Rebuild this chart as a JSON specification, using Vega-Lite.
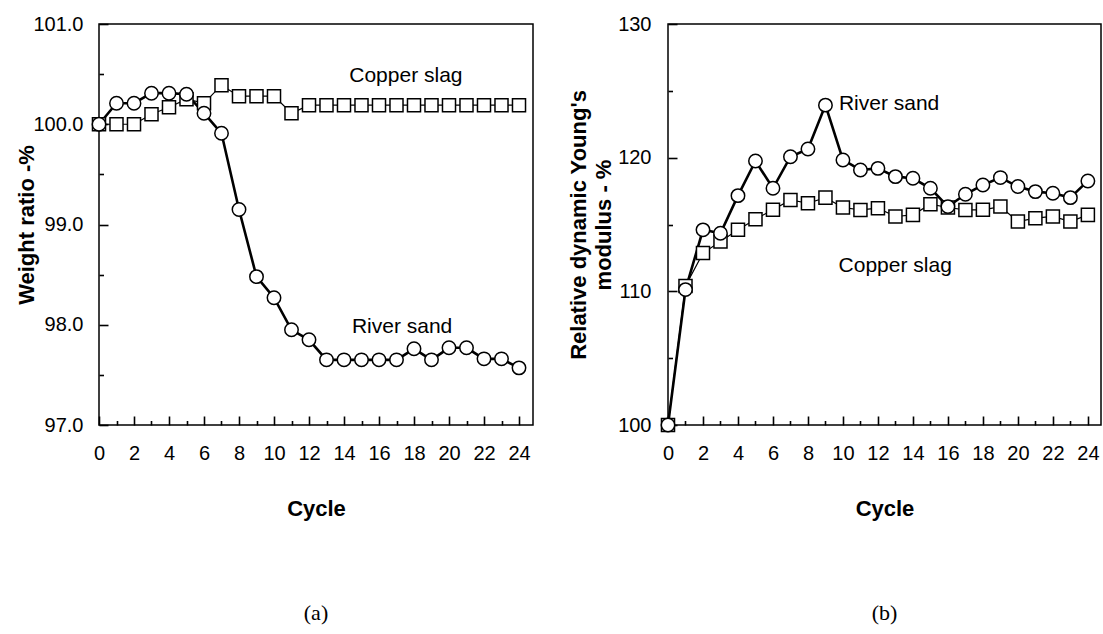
{
  "$schema": "https://vega.github.io/schema/vega-lite/v6.json",
  "background": "white",
  "padding": {"left": 14, "top": 13, "right": 0, "bottom": 0},
  "spacing": 32,
  "config": {
    "view": {"stroke": "black", "strokeWidth": 1.5, "fill": null},
    "font": "Liberation Sans",
    "axis": {
      "grid": false,
      "zindex": 1,
      "domain": false,
      "ticks": true,
      "tickColor": "black",
      "tickWidth": 1.6,
      "labelColor": "black",
      "labelFont": "Liberation Sans",
      "labelFontSize": 20,
      "labelOverlap": false,
      "labelFlush": false,
      "labelBound": false,
      "titleFont": "Liberation Sans",
      "titleFontSize": 22,
      "titleFontWeight": "bold",
      "titleColor": "black"
    },
    "title": {"font": "Liberation Serif", "fontSize": 22, "fontWeight": "normal", "orient": "bottom", "offset": 84, "color": "black", "anchor": "middle"}
  },
  "datasets": {
    "a": [
      {"series": "Copper slag", "cycle": 0, "value": 100.0},
      {"series": "Copper slag", "cycle": 1, "value": 100.0},
      {"series": "Copper slag", "cycle": 2, "value": 100.0},
      {"series": "Copper slag", "cycle": 3, "value": 100.1},
      {"series": "Copper slag", "cycle": 4, "value": 100.17},
      {"series": "Copper slag", "cycle": 5, "value": 100.25},
      {"series": "Copper slag", "cycle": 6, "value": 100.21},
      {"series": "Copper slag", "cycle": 7, "value": 100.39},
      {"series": "Copper slag", "cycle": 8, "value": 100.28},
      {"series": "Copper slag", "cycle": 9, "value": 100.28},
      {"series": "Copper slag", "cycle": 10, "value": 100.28},
      {"series": "Copper slag", "cycle": 11, "value": 100.11},
      {"series": "Copper slag", "cycle": 12, "value": 100.19},
      {"series": "Copper slag", "cycle": 13, "value": 100.19},
      {"series": "Copper slag", "cycle": 14, "value": 100.19},
      {"series": "Copper slag", "cycle": 15, "value": 100.19},
      {"series": "Copper slag", "cycle": 16, "value": 100.19},
      {"series": "Copper slag", "cycle": 17, "value": 100.19},
      {"series": "Copper slag", "cycle": 18, "value": 100.19},
      {"series": "Copper slag", "cycle": 19, "value": 100.19},
      {"series": "Copper slag", "cycle": 20, "value": 100.19},
      {"series": "Copper slag", "cycle": 21, "value": 100.19},
      {"series": "Copper slag", "cycle": 22, "value": 100.19},
      {"series": "Copper slag", "cycle": 23, "value": 100.19},
      {"series": "Copper slag", "cycle": 24, "value": 100.19},
      {"series": "River sand", "cycle": 0, "value": 100.0},
      {"series": "River sand", "cycle": 1, "value": 100.21},
      {"series": "River sand", "cycle": 2, "value": 100.21},
      {"series": "River sand", "cycle": 3, "value": 100.31},
      {"series": "River sand", "cycle": 4, "value": 100.31},
      {"series": "River sand", "cycle": 5, "value": 100.3},
      {"series": "River sand", "cycle": 6, "value": 100.11},
      {"series": "River sand", "cycle": 7, "value": 99.91},
      {"series": "River sand", "cycle": 8, "value": 99.15},
      {"series": "River sand", "cycle": 9, "value": 98.48},
      {"series": "River sand", "cycle": 10, "value": 98.27},
      {"series": "River sand", "cycle": 11, "value": 97.95},
      {"series": "River sand", "cycle": 12, "value": 97.85},
      {"series": "River sand", "cycle": 13, "value": 97.65},
      {"series": "River sand", "cycle": 14, "value": 97.65},
      {"series": "River sand", "cycle": 15, "value": 97.65},
      {"series": "River sand", "cycle": 16, "value": 97.65},
      {"series": "River sand", "cycle": 17, "value": 97.65},
      {"series": "River sand", "cycle": 18, "value": 97.76},
      {"series": "River sand", "cycle": 19, "value": 97.65},
      {"series": "River sand", "cycle": 20, "value": 97.77},
      {"series": "River sand", "cycle": 21, "value": 97.77},
      {"series": "River sand", "cycle": 22, "value": 97.66},
      {"series": "River sand", "cycle": 23, "value": 97.66},
      {"series": "River sand", "cycle": 24, "value": 97.57}
    ],
    "b": [
      {"series": "Copper slag", "cycle": 0, "value": 100},
      {"series": "Copper slag", "cycle": 1, "value": 110.4},
      {"series": "Copper slag", "cycle": 2, "value": 112.86},
      {"series": "Copper slag", "cycle": 3, "value": 113.73},
      {"series": "Copper slag", "cycle": 4, "value": 114.6},
      {"series": "Copper slag", "cycle": 5, "value": 115.4},
      {"series": "Copper slag", "cycle": 6, "value": 116.1},
      {"series": "Copper slag", "cycle": 7, "value": 116.84},
      {"series": "Copper slag", "cycle": 8, "value": 116.59},
      {"series": "Copper slag", "cycle": 9, "value": 117.01},
      {"series": "Copper slag", "cycle": 10, "value": 116.27},
      {"series": "Copper slag", "cycle": 11, "value": 116.09},
      {"series": "Copper slag", "cycle": 12, "value": 116.22},
      {"series": "Copper slag", "cycle": 13, "value": 115.6},
      {"series": "Copper slag", "cycle": 14, "value": 115.72},
      {"series": "Copper slag", "cycle": 15, "value": 116.52},
      {"series": "Copper slag", "cycle": 16, "value": 116.27},
      {"series": "Copper slag", "cycle": 17, "value": 116.09},
      {"series": "Copper slag", "cycle": 18, "value": 116.1},
      {"series": "Copper slag", "cycle": 19, "value": 116.34},
      {"series": "Copper slag", "cycle": 20, "value": 115.22},
      {"series": "Copper slag", "cycle": 21, "value": 115.47},
      {"series": "Copper slag", "cycle": 22, "value": 115.6},
      {"series": "Copper slag", "cycle": 23, "value": 115.22},
      {"series": "Copper slag", "cycle": 24, "value": 115.72},
      {"series": "River sand", "cycle": 0, "value": 100},
      {"series": "River sand", "cycle": 1, "value": 110.13},
      {"series": "River sand", "cycle": 2, "value": 114.6},
      {"series": "River sand", "cycle": 3, "value": 114.35},
      {"series": "River sand", "cycle": 4, "value": 117.16},
      {"series": "River sand", "cycle": 5, "value": 119.75},
      {"series": "River sand", "cycle": 6, "value": 117.71},
      {"series": "River sand", "cycle": 7, "value": 120.07},
      {"series": "River sand", "cycle": 8, "value": 120.65},
      {"series": "River sand", "cycle": 9, "value": 123.93},
      {"series": "River sand", "cycle": 10, "value": 119.83},
      {"series": "River sand", "cycle": 11, "value": 119.08},
      {"series": "River sand", "cycle": 12, "value": 119.2},
      {"series": "River sand", "cycle": 13, "value": 118.58},
      {"series": "River sand", "cycle": 14, "value": 118.46},
      {"series": "River sand", "cycle": 15, "value": 117.71},
      {"series": "River sand", "cycle": 16, "value": 116.34},
      {"series": "River sand", "cycle": 17, "value": 117.26},
      {"series": "River sand", "cycle": 18, "value": 117.96},
      {"series": "River sand", "cycle": 19, "value": 118.51},
      {"series": "River sand", "cycle": 20, "value": 117.84},
      {"series": "River sand", "cycle": 21, "value": 117.46},
      {"series": "River sand", "cycle": 22, "value": 117.34},
      {"series": "River sand", "cycle": 23, "value": 117.01},
      {"series": "River sand", "cycle": 24, "value": 118.26}
    ],
    "labels_a": [
      {"label": "Copper slag", "cycle": 14.3, "value": 100.48},
      {"label": "River sand", "cycle": 14.45, "value": 97.98}
    ],
    "labels_b": [
      {"label": "River sand", "cycle": 9.77, "value": 124.03},
      {"label": "Copper slag", "cycle": 9.75, "value": 111.87}
    ]
  },
  "hconcat": [
    {
      "width": 434,
      "height": 401,
      "title": {"text": "(a)"},
      "resolve": {"axis": {"x": "independent", "y": "independent"}},
      "encoding": {
        "x": {"field": "cycle", "type": "quantitative", "scale": {"domain": [0, 24.8], "nice": false, "zero": false}, "axis": null},
        "y": {"field": "value", "type": "quantitative", "scale": {"domain": [97, 101], "nice": false, "zero": false}, "axis": null}
      },
      "layer": [
        {
          "data": {"name": "a"},
          "transform": [{"filter": "datum.series === 'Copper slag'"}],
          "mark": {"type": "line", "color": "black", "strokeWidth": 1.2},
          "encoding": {
            "x": {
              "field": "cycle", "type": "quantitative",
              "scale": {"domain": [0, 24.8], "nice": false, "zero": false},
              "axis": {
                "orient": "bottom",
                "offset": -9,
                "title": "Cycle",
                "titlePadding": 35,
                "values": [0, 2, 4, 6, 8, 10, 12, 14, 16, 18, 20, 22, 24],
                "tickSize": 9,
                "labelPadding": 18
              }
            },
            "y": {
              "field": "value", "type": "quantitative",
              "scale": {"domain": [97, 101], "nice": false, "zero": false},
              "axis": {
                "orient": "left",
                "offset": -9,
                "title": "Weight ratio -%",
                "titleX": -82,
                "titleBaseline": "middle",
                "values": [97, 98, 99, 100, 101],
                "format": ".1f",
                "tickSize": 9,
                "labelPadding": 16
              }
            }
          }
        },
        {"data": {"name": "a"}, "transform": [{"filter": "datum.series === 'River sand'"}], "mark": {"type": "line", "color": "black", "strokeWidth": 2.6}},
        {"data": {"name": "a"}, "transform": [{"filter": "datum.series === 'Copper slag'"}], "mark": {"type": "point", "shape": "square", "filled": true, "fill": "white", "stroke": "black", "strokeWidth": 1.5, "size": 170, "opacity": 1}},
        {"data": {"name": "a"}, "transform": [{"filter": "datum.series === 'River sand'"}], "mark": {"type": "point", "shape": "circle", "filled": true, "fill": "white", "stroke": "black", "strokeWidth": 1.5, "size": 180, "opacity": 1}},
        {
          "data": {"name": "labels_a"},
          "mark": {"type": "text", "align": "left", "baseline": "middle", "fontSize": 21, "font": "Liberation Sans", "color": "black"},
          "encoding": {
            "text": {"field": "label"},
            "x": {
              "field": "cycle", "type": "quantitative",
              "scale": {"domain": [0, 24.8], "nice": false, "zero": false},
              "axis": {"orient": "bottom", "offset": -4.5, "title": null, "labels": false, "tickSize": 4.5, "values": [1, 3, 5, 7, 9, 11, 13, 15, 17, 19, 21, 23]}
            },
            "y": {
              "field": "value", "type": "quantitative",
              "scale": {"domain": [97, 101], "nice": false, "zero": false},
              "axis": {"orient": "left", "offset": -4.5, "title": null, "labels": false, "tickSize": 4.5, "values": [97.5, 98.5, 99.5, 100.5]}
            }
          }
        }
      ]
    },
    {
      "width": 433,
      "height": 401,
      "title": {"text": "(b)"},
      "resolve": {"axis": {"x": "independent", "y": "independent"}},
      "encoding": {
        "x": {"field": "cycle", "type": "quantitative", "scale": {"domain": [0, 24.75], "nice": false, "zero": false}, "axis": null},
        "y": {"field": "value", "type": "quantitative", "scale": {"domain": [100, 130], "nice": false, "zero": false}, "axis": null}
      },
      "layer": [
        {
          "data": {"name": "b"},
          "transform": [{"filter": "datum.series === 'Copper slag'"}],
          "mark": {"type": "line", "color": "black", "strokeWidth": 1.2},
          "encoding": {
            "x": {
              "field": "cycle", "type": "quantitative",
              "scale": {"domain": [0, 24.75], "nice": false, "zero": false},
              "axis": {
                "orient": "bottom",
                "offset": -9,
                "title": "Cycle",
                "titlePadding": 35,
                "values": [0, 2, 4, 6, 8, 10, 12, 14, 16, 18, 20, 22, 24],
                "tickSize": 9,
                "labelPadding": 18
              }
            },
            "y": {
              "field": "value", "type": "quantitative",
              "scale": {"domain": [100, 130], "nice": false, "zero": false},
              "axis": {
                "orient": "left",
                "offset": -9,
                "title": ["Relative dynamic Young's", "modulus - %"],
                "titleLineHeight": 25,
                "titleX": -99,
                "titleBaseline": "middle",
                "values": [100, 110, 120, 130],
                "tickSize": 9,
                "labelPadding": 17
              }
            }
          }
        },
        {"data": {"name": "b"}, "transform": [{"filter": "datum.series === 'River sand'"}], "mark": {"type": "line", "color": "black", "strokeWidth": 2.6}},
        {"data": {"name": "b"}, "transform": [{"filter": "datum.series === 'Copper slag'"}], "mark": {"type": "point", "shape": "square", "filled": true, "fill": "white", "stroke": "black", "strokeWidth": 1.5, "size": 170, "opacity": 1}},
        {"data": {"name": "b"}, "transform": [{"filter": "datum.series === 'River sand'"}], "mark": {"type": "point", "shape": "circle", "filled": true, "fill": "white", "stroke": "black", "strokeWidth": 1.5, "size": 180, "opacity": 1}},
        {
          "data": {"name": "labels_b"},
          "mark": {"type": "text", "align": "left", "baseline": "middle", "fontSize": 21, "font": "Liberation Sans", "color": "black"},
          "encoding": {
            "text": {"field": "label"},
            "x": {
              "field": "cycle", "type": "quantitative",
              "scale": {"domain": [0, 24.75], "nice": false, "zero": false},
              "axis": {"orient": "bottom", "offset": -4.5, "title": null, "labels": false, "tickSize": 4.5, "values": [1, 3, 5, 7, 9, 11, 13, 15, 17, 19, 21, 23]}
            },
            "y": {
              "field": "value", "type": "quantitative",
              "scale": {"domain": [100, 130], "nice": false, "zero": false},
              "axis": {"orient": "left", "offset": -4.5, "title": null, "labels": false, "tickSize": 4.5, "values": [105, 115, 125]}
            }
          }
        }
      ]
    }
  ]
}
